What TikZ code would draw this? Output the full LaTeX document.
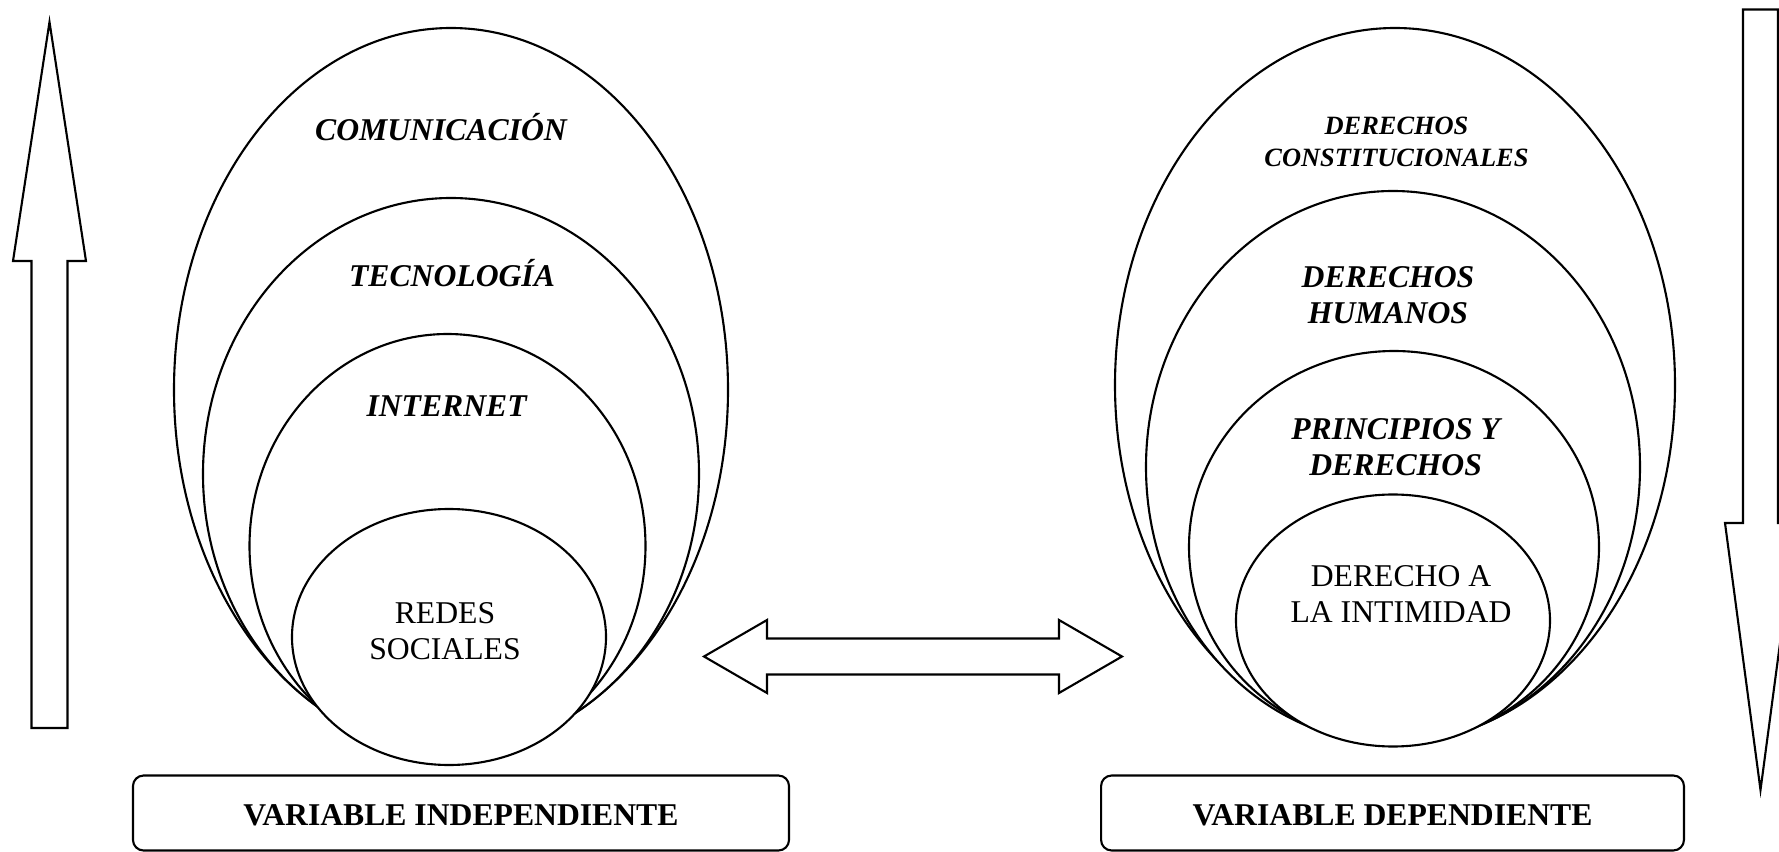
\documentclass[tikz,border=0pt]{standalone}
\usepackage{fontspec}
\setmainfont{Liberation Serif}

\begin{document}
\begin{tikzpicture}[
            x=0.3788pt,y=-0.3788pt,
            line width=0.8pt,
            ring/.style={draw,fill=white},
            blockarrow/.style={draw,fill=white,line join=miter},
            varbox/.style={draw,rounded corners=4pt,minimum height=28.4pt,inner sep=0pt,
                text height=9.5pt,text depth=0pt,
                font=\fontsize{12}{13.6}\selectfont\bfseries}
        ]
            \useasboundingbox (0,0) rectangle (1779,852);

            % up arrow on the left
            \draw [blockarrow] (31.5,728) -- (31.5,261) -- (13,261) -- (49.5,22) -- (86,261) -- (67.5,261) -- (67.5,728) -- cycle;

            % independent variable
            \draw [ring] (451,389.7) ellipse [x radius=277,y radius=361.7];
            \draw [ring] (451,474)   ellipse [x radius=248,y radius=276];
            \draw [ring] (447.5,546) ellipse [x radius=198,y radius=212];
            \draw [ring] (449,637)   ellipse [x radius=157,y radius=128];

            \begin{scope}[
                every node/.style={font=\fontsize{12}{13.6}\selectfont\bfseries\itshape,inner sep=0pt,anchor=base}
            ]
                \node (comu) at (441,140.5) {COMUNICACIÓN};
                \node (tecno) at (452,286.5) {TECNOLOGÍA};
                \node (inter) at (446.6,417) {INTERNET};
            \end{scope}
            \node (redes) [font=\fontsize{12}{13.6}\selectfont,align=center,inner sep=0pt] at (445,631) {REDES\\SOCIALES};

            % double arrow between both
            \draw [blockarrow] (704,656.5) -- (767,620) -- (767,638.5) -- (1059,638.5) -- (1059,620) -- (1122,656.5)
                -- (1059,693) -- (1059,674.5) -- (767,674.5) -- (767,693) -- cycle;

            % dependent variable
            \draw [ring] (1395,385)   ellipse [x radius=280,y radius=357];
            \draw [ring] (1393,467)   ellipse [x radius=247,y radius=276];
            \draw [ring] (1394,547)   ellipse [x radius=205,y radius=196];
            \draw [ring] (1393,620.5) ellipse [x radius=157,y radius=126];

            \begin{scope}[
                every node/.style={font=\fontsize{12}{13.6}\selectfont\bfseries\itshape,align=center,inner sep=0pt}
            ]
                \node (dconst) [font=\fontsize{10}{12}\selectfont\bfseries\itshape] at (1396.5,141.8) {DERECHOS\\CONSTITUCIONALES};
                \node (dhum) at (1388,294.8) {DERECHOS\\HUMANOS};
                \node (princ) at (1395.6,446.8) {PRINCIPIOS Y\\DERECHOS};
            \end{scope}
            \node (intim) [font=\fontsize{12}{13.6}\selectfont,align=center,inner sep=0pt] at (1401,594) {DERECHO A\\LA INTIMIDAD};

            % down arrow on the right
            \draw [blockarrow] (1743,9.5) -- (1778,9.5) -- (1778,523) -- (1796,523) -- (1760.5,790) -- (1725,523) -- (1743,523) -- cycle;

            \node (indep) [varbox,minimum width=248.5pt] at (461,813)    {VARIABLE INDEPENDIENTE};
            \node (dep)   [varbox,minimum width=220.8pt] at (1392.5,813) {VARIABLE DEPENDIENTE};
        \end{tikzpicture}
\end{document}
